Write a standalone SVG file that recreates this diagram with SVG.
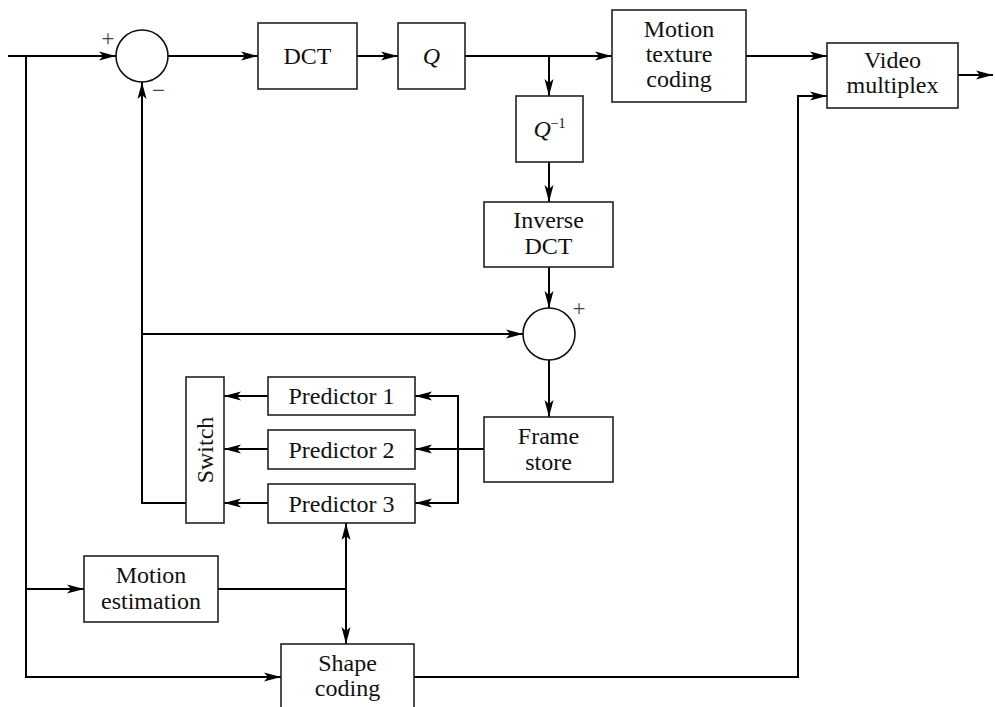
<svg xmlns="http://www.w3.org/2000/svg" width="995" height="707" viewBox="0 0 995 707">
<defs>
<marker id="ah" markerUnits="userSpaceOnUse" markerWidth="18" markerHeight="12" viewBox="0 0 18 12" refX="17" refY="6" orient="auto-start-reverse">
<path d="M0,1.5 L17,6 L0,10.5 L4,6 Z" fill="#000"/>
</marker>
<style>
.box{fill:#fff;stroke:#222;stroke-width:1.6}
.sum{fill:#fff;stroke:#111;stroke-width:1.6}
.t{font-family:"Liberation Serif","Times New Roman",serif;font-size:24px;fill:#111;text-anchor:middle}
.s{font-family:"Liberation Serif","Times New Roman",serif;font-size:23px;fill:#444;text-anchor:middle}
.c{fill:none;stroke:#000;stroke-width:2}
.ca{fill:none;stroke:#000;stroke-width:2;marker-end:url(#ah)}
</style>
</defs>
<rect width="995" height="707" fill="#fff"/>
<g id="connectors">
<path class="ca" d="M8,56 H116"/>
<path class="ca" d="M26,56 V677 H281"/>
<path class="ca" d="M26,589 H84"/>
<path class="ca" d="M168,56 H258"/>
<path class="ca" d="M357,56 H398"/>
<path class="ca" d="M465,56 H612"/>
<path class="ca" d="M549,56 V96"/>
<path class="ca" d="M549,162 V202"/>
<path class="ca" d="M549,267 V308"/>
<path class="ca" d="M549,360 V417"/>
<path class="ca" d="M142,334 H523"/>
<path class="ca" d="M186,503 H142 V82"/>
<path class="ca" d="M484,449 H415"/>
<path class="ca" d="M458,449 V396 H415"/>
<path class="ca" d="M458,449 V503 H415"/>
<path class="ca" d="M268,396 H224"/>
<path class="ca" d="M268,449 H224"/>
<path class="ca" d="M268,503 H224"/>
<path class="ca" d="M746,56 H827"/>
<path class="ca" d="M958,75 H993"/>
<path class="ca" d="M414,677 H798 V96 H827"/>
<path class="c" d="M218,589 H346"/>
<path class="ca" d="M346,589 V523"/>
<path class="ca" d="M346,589 V644"/>
</g>
<g id="sum1">
<circle class="sum" cx="142" cy="56" r="26"/>
<text class="s" x="108" y="46">+</text>
<text class="s" x="158.5" y="98">−</text>
</g>
<g id="dct"><rect class="box" x="258" y="23" width="99" height="66"/><text class="t" x="307.5" y="64">DCT</text></g>
<g id="q"><rect class="box" x="398" y="23" width="67" height="66"/><text class="t" x="431.5" y="64" font-style="italic">Q</text></g>
<g id="mtc"><rect class="box" x="612" y="10" width="134" height="92"/>
<text class="t" x="679" y="37">Motion</text><text class="t" x="679" y="62">texture</text><text class="t" x="679" y="87">coding</text></g>
<g id="vmux"><rect class="box" x="827" y="43" width="131" height="65"/>
<text class="t" x="892.5" y="68">Video</text><text class="t" x="892.5" y="93">multiplex</text></g>
<g id="qinv"><rect class="box" x="516" y="96" width="67" height="66"/>
<text class="t" x="549.5" y="137"><tspan font-style="italic">Q</tspan><tspan font-size="14" dy="-9">−1</tspan></text></g>
<g id="idct"><rect class="box" x="484" y="202" width="129" height="65"/>
<text class="t" x="548.5" y="228">Inverse</text><text class="t" x="548.5" y="254">DCT</text></g>
<g id="sum2">
<circle class="sum" cx="549" cy="334" r="26"/>
<text class="s" x="579" y="316">+</text>
</g>
<g id="framestore"><rect class="box" x="484" y="417" width="129" height="65"/>
<text class="t" x="548.5" y="444">Frame</text><text class="t" x="548.5" y="470">store</text></g>
<g id="switch"><rect class="box" x="186" y="377" width="38" height="146"/>
<text class="t" transform="translate(213,450) rotate(-90)" x="0" y="0">Switch</text></g>
<g id="pred1"><rect class="box" x="268" y="377" width="147" height="38"/><text class="t" x="341.5" y="404">Predictor 1</text></g>
<g id="pred2"><rect class="box" x="268" y="430" width="147" height="39"/><text class="t" x="341.5" y="458">Predictor 2</text></g>
<g id="pred3"><rect class="box" x="268" y="484" width="147" height="39"/><text class="t" x="341.5" y="512">Predictor 3</text></g>
<g id="motionest"><rect class="box" x="84" y="556" width="134" height="66"/>
<text class="t" x="151" y="583">Motion</text><text class="t" x="151" y="609">estimation</text></g>
<g id="shape"><rect class="box" x="281" y="644" width="133" height="70"/>
<text class="t" x="347.5" y="671">Shape</text><text class="t" x="347.5" y="696">coding</text></g>
</svg>
